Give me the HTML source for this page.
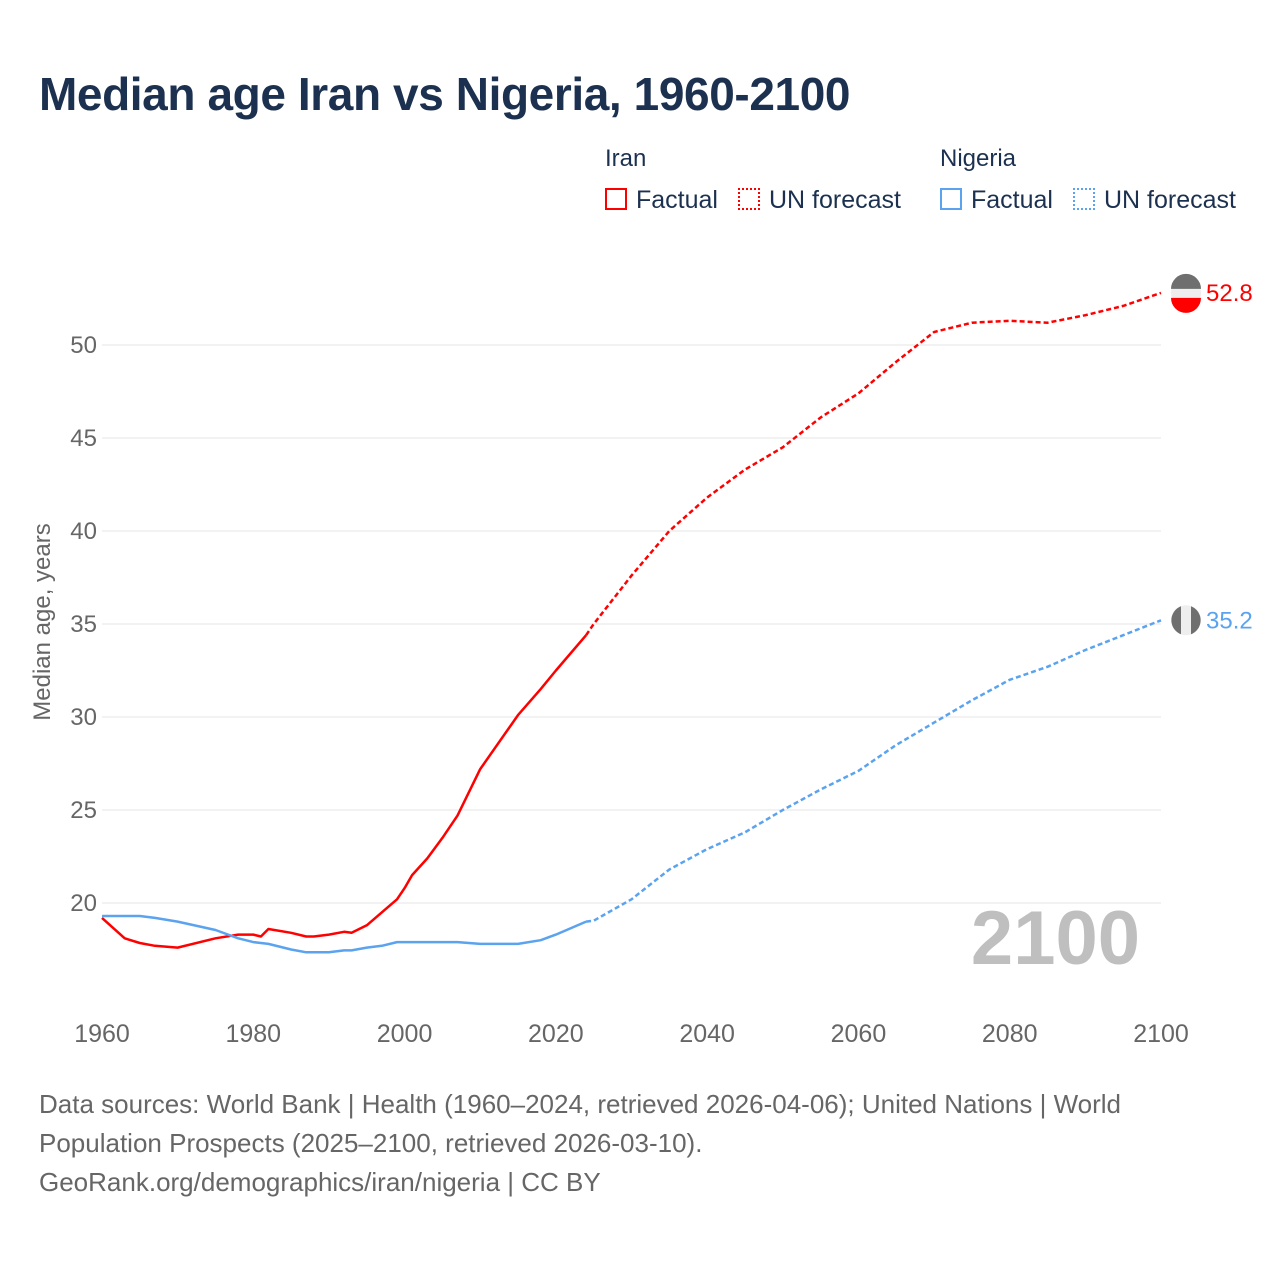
<!DOCTYPE html>
<html><head><meta charset="utf-8">
<style>
body{margin:0;background:#fff;font-family:"Liberation Sans",sans-serif;}
#wrap{position:relative;width:1280px;height:1280px;overflow:hidden;}
.t{position:absolute;white-space:nowrap;}
</style></head>
<body>
<div id="wrap">
<div class="t" style="left:39px;top:67px;font-size:46px;font-weight:bold;color:#1c3150;letter-spacing:-0.4px">Median age Iran vs Nigeria, 1960-2100</div>
<div class="t" style="left:605px;top:145px;font-size:24px;color:#1c3150">Iran</div>
<div class="t" style="left:940px;top:145px;font-size:24px;color:#1c3150">Nigeria</div>
<div style="position:absolute;left:605px;top:188px;width:22px;height:22px;border:2px solid #f00;box-sizing:border-box"></div>
<div class="t" style="left:636px;top:186px;font-size:25px;color:#1c3150">Factual</div>
<div style="position:absolute;left:738px;top:188px;width:22px;height:22px;border:2px dotted #f00;box-sizing:border-box"></div>
<div class="t" style="left:769px;top:186px;font-size:25px;color:#1c3150">UN forecast</div>
<div style="position:absolute;left:940px;top:188px;width:22px;height:22px;border:2px solid #5ba3ee;box-sizing:border-box"></div>
<div class="t" style="left:971px;top:186px;font-size:25px;color:#1c3150">Factual</div>
<div style="position:absolute;left:1073px;top:188px;width:22px;height:22px;border:2px dotted #5ba3ee;box-sizing:border-box"></div>
<div class="t" style="left:1104px;top:186px;font-size:25px;color:#1c3150">UN forecast</div>
<svg id="chart" width="1280" height="1280" style="position:absolute;left:0;top:0"></svg>
<div class="t" style="left:39px;top:1085px;font-size:26px;line-height:39px;color:#666">Data sources: World Bank | Health (1960–2024, retrieved 2026-04-06); United Nations | World<br>Population Prospects (2025–2100, retrieved 2026-03-10).<br>GeoRank.org/demographics/iran/nigeria | CC BY</div>
</div>
<script>
const years=[1960,1963,1965,1967,1970,1975,1978,1980,1981,1982,1985,1987,1988,1990,1992,1993,1995,1997,1999,2000,2001,2003,2005,2007,2010,2015,2018,2020,2024,2025,2030,2035,2040,2045,2050,2055,2060,2065,2070,2075,2080,2085,2090,2095,2100];
const iran=[19.2,18.1,17.85,17.7,17.6,18.1,18.3,18.3,18.2,18.6,18.4,18.2,18.2,18.3,18.45,18.4,18.8,19.5,20.2,20.8,21.5,22.4,23.5,24.7,27.2,30.1,31.5,32.5,34.4,35.0,37.6,40.0,41.8,43.3,44.5,46.1,47.4,49.1,50.7,51.2,51.3,51.2,51.6,52.1,52.8];
const nigeria=[19.3,19.3,19.3,19.2,19.0,18.55,18.1,17.9,17.85,17.8,17.5,17.35,17.35,17.35,17.45,17.45,17.6,17.7,17.9,17.9,17.9,17.9,17.9,17.9,17.8,17.8,18.0,18.3,19.0,19.05,20.2,21.8,22.9,23.8,25.0,26.1,27.1,28.5,29.7,30.9,32.0,32.7,33.6,34.4,35.2];
const lastFactual=2024;
const yTicks=[20,25,30,35,40,45,50];
const xTicks=[1960,1980,2000,2020,2040,2060,2080,2100];
const X=y=>102+(y-1960)*(1161-102)/140;
const Y=v=>903-(v-20)*18.6;
const svg=document.getElementById('chart');
const NS='http://www.w3.org/2000/svg';
function el(t,a){const e=document.createElementNS(NS,t);for(const k in a)e.setAttribute(k,a[k]);svg.appendChild(e);return e;}
yTicks.forEach(v=>{
 const g=el('line',{x1:102,x2:1161,y1:Y(v),y2:Y(v),stroke:'#e6e6e6','stroke-width':1});
 
 
 const t=el('text',{x:97,y:Y(v)+8,'text-anchor':'end','font-size':24,fill:'#666','font-family':'Liberation Sans'});
 t.textContent=v;
 
 
});
xTicks.forEach(v=>{
 const t=el('text',{x:X(v),y:1042,'text-anchor':'middle','font-size':25,fill:'#666','font-family':'Liberation Sans'});
 t.textContent=v;
 
 
});
const yt=el('text',{transform:'translate(50,622) rotate(-90)','text-anchor':'middle','font-size':24,fill:'#666','font-family':'Liberation Sans'});
yt.textContent='Median age, years';


const yr=el('text',{x:1140,y:964,'text-anchor':'end','font-size':76,'font-weight':'bold',fill:'#bfbfbf','font-family':'Liberation Sans'});
yr.textContent='2100';


function series(vals,color,name){
 const f=[],c=[];
 years.forEach((yy,i)=>{const p=X(yy).toFixed(1)+','+Y(vals[i]).toFixed(1);if(yy<=lastFactual)f.push(p);if(yy>=lastFactual)c.push(p);});
 const a=el('polyline',{points:f.join(' '),fill:'none',stroke:color,'stroke-width':2.5,'stroke-linejoin':'round'});
 
 
 const b=el('polyline',{points:c.join(' '),fill:'none',stroke:color,'stroke-width':2.5,'stroke-dasharray':'5,3'});
 
 
 const lv=vals[vals.length-1];
 const ci=el('circle',{cx:1186,cy:Y(lv),r:15,fill:'#eee',stroke:'#777','stroke-width':0});
 
 
 return lv;
}
const li=series(iran,'#ff0000','iran');
el('path',{d:`M1171,${Y(li)-4} A15,15 0 0 1 1201,${Y(li)-4} Z`,fill:'#6f6f6f'});
el('path',{d:`M1171,${Y(li)+5} L1201,${Y(li)+5} A15,15 0 0 1 1171,${Y(li)+5} Z`,fill:'#f00'});
const ln=series(nigeria,'#5ba3ee','nigeria');
el('path',{d:`M1181,${Y(ln)-14} A15,15 0 0 0 1181,${Y(ln)+14} Z`,fill:'#6f6f6f'});
el('path',{d:`M1191,${Y(ln)-14} A15,15 0 0 1 1191,${Y(ln)+14} Z`,fill:'#6f6f6f'});
const t1=el('text',{x:1206,y:Y(li)+8,'font-size':24,fill:'#f00','font-family':'Liberation Sans'});
t1.textContent=li.toFixed(1);


const t2=el('text',{x:1206,y:Y(ln)+8,'font-size':24,fill:'#5ba3ee','font-family':'Liberation Sans'});
t2.textContent=ln.toFixed(1);


</script>
</body></html>
